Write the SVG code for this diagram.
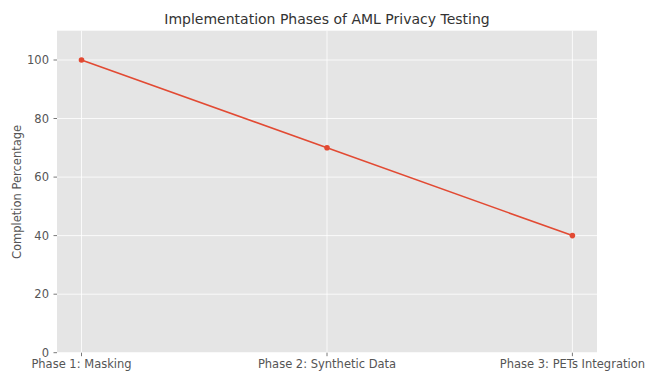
<svg xmlns="http://www.w3.org/2000/svg" width="646" height="371" viewBox="0 0 646 371">
<style>
.tick{font-family:"DejaVu Sans",sans-serif;font-size:11.5px;fill:#555555}
.grid{stroke:#ffffff;stroke-width:0.8}
.tm{stroke:#555555;stroke-width:0.8}
</style>
<rect width="646" height="371" fill="#ffffff"/>
<g id="plot-area">
<rect x="57" y="30.7" width="540" height="322" fill="#E5E5E5"/>
<g id="grid">
<line class="grid" x1="57" y1="352.7" x2="597" y2="352.7"/>
<line class="grid" x1="57" y1="294.2" x2="597" y2="294.2"/>
<line class="grid" x1="57" y1="235.6" x2="597" y2="235.6"/>
<line class="grid" x1="57" y1="177.1" x2="597" y2="177.1"/>
<line class="grid" x1="57" y1="118.5" x2="597" y2="118.5"/>
<line class="grid" x1="57" y1="60" x2="597" y2="60"/>
<line class="grid" x1="81.5" y1="30.7" x2="81.5" y2="352.7"/>
<line class="grid" x1="327" y1="30.7" x2="327" y2="352.7"/>
<line class="grid" x1="572.4" y1="30.7" x2="572.4" y2="352.7"/>
</g>
</g>
<g id="y-axis">
<line class="tm" x1="53.5" y1="352.7" x2="57" y2="352.7"/>
<line class="tm" x1="53.5" y1="294.2" x2="57" y2="294.2"/>
<line class="tm" x1="53.5" y1="235.6" x2="57" y2="235.6"/>
<line class="tm" x1="53.5" y1="177.1" x2="57" y2="177.1"/>
<line class="tm" x1="53.5" y1="118.5" x2="57" y2="118.5"/>
<line class="tm" x1="53.5" y1="60" x2="57" y2="60"/>
<g class="tick" text-anchor="end">
<text x="49" y="356.8">0</text>
<text x="49" y="298.3">20</text>
<text x="49" y="239.7">40</text>
<text x="49" y="181.2">60</text>
<text x="49" y="122.6">80</text>
<text x="49" y="64.1">100</text>
</g>
<text transform="translate(21,192) rotate(-90)" text-anchor="middle" font-family="DejaVu Sans, sans-serif" font-size="11.5" fill="#555555">Completion Percentage</text>
</g>
<g id="x-axis">
<line class="tm" x1="81.5" y1="352.7" x2="81.5" y2="356.2"/>
<line class="tm" x1="327" y1="352.7" x2="327" y2="356.2"/>
<line class="tm" x1="572.4" y1="352.7" x2="572.4" y2="356.2"/>
<g class="tick" text-anchor="middle">
<text x="81.5" y="367.5">Phase 1: Masking</text>
<text x="327" y="367.5">Phase 2: Synthetic Data</text>
<text x="572.4" y="367.5">Phase 3: PETs Integration</text>
</g>
</g>
<g id="series">
<polyline points="81.5,60 327,147.8 572.4,235.6" fill="none" stroke="#E24A33" stroke-width="1.6"/>
<circle cx="81.5" cy="60" r="2.8" fill="#E24A33"/>
<circle cx="327" cy="147.8" r="2.8" fill="#E24A33"/>
<circle cx="572.4" cy="235.6" r="2.8" fill="#E24A33"/>
</g>
<text id="title" x="327" y="24" text-anchor="middle" font-family="DejaVu Sans, sans-serif" font-size="14" fill="#333333">Implementation Phases of AML Privacy Testing</text>
</svg>
